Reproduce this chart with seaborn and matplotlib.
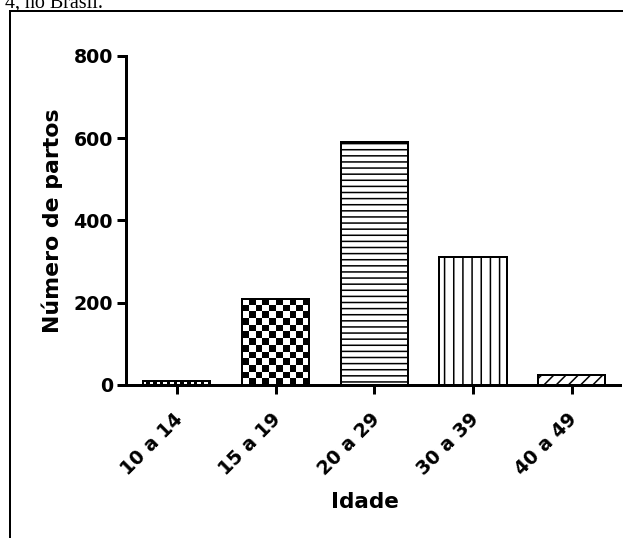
import numpy as np
import pandas as pd
import matplotlib
matplotlib.use("Agg")
import matplotlib.pyplot as plt
import matplotlib.transforms as mtransforms
import seaborn as sns
from matplotlib.patches import Rectangle

# ---- data ----
categories = ["10 a 14", "15 a 19", "20 a 29", "30 a 39", "40 a 49"]
partos = [10, 210, 590, 312, 24]
yticks = [0, 200, 400, 600, 800]
xlabel = "Idade"
ylabel = "Número de partos"
caption = "4, no Brasil."

DPI = 110
W, H = 623, 538
px = 72.0 / DPI  # points per pixel

sns.set_theme(style="ticks")
plt.rcParams["font.family"] = ["DejaVu Sans"]
plt.rcParams["font.weight"] = "bold"
plt.rcParams["hatch.linewidth"] = 1.0
plt.rcParams["hatch.color"] = "black"

fig = plt.figure(figsize=(W / DPI, H / DPI), dpi=DPI)
fig.patch.set_facecolor("white")
ax_l, ax_r, ax_t, ax_b = 126, 620, 55.7, 385
ax = fig.add_axes([ax_l / W, 1 - ax_b / H, (ax_r - ax_l) / W, (ax_b - ax_t) / H])
ax.set_facecolor("white")

df = pd.DataFrame({"Idade": categories, "partos": partos})
sns.barplot(data=df, x="Idade", y="partos", ax=ax, color="white",
            edgecolor="black", linewidth=2 * px, width=0.68, saturation=1,
            errorbar=None)

ax.set_ylim(0, 800)
ax.set_xlim(-0.516, 4.49)
ax.set_yticks(yticks)

bars = ax.patches
bars[2].set_hatch("---")
bars[3].set_hatch("||")
bars[4].set_hatch("///")


def checker(patch, size_px):
    bb = patch.get_window_extent()
    ncols = max(1, int(round(bb.width / size_px)))
    nrows = max(1, int(round(bb.height / size_px)))
    arr = (np.add.outer(np.arange(nrows), np.arange(ncols)) % 2).astype(float)
    x0, y0 = patch.get_x(), patch.get_y()
    w, h = patch.get_width(), patch.get_height()
    patch.set_facecolor("none")
    im = ax.imshow(arr, cmap="binary", vmin=0, vmax=1, aspect="auto",
                   interpolation="nearest", extent=(x0, x0 + w, y0, y0 + h),
                   zorder=patch.get_zorder() - 0.1)
    im.set_clip_path(patch)


checker(bars[1], 6.7)
checker(bars[0], 3.3)
ax.set_ylim(0, 800)
ax.set_xlim(-0.516, 4.49)

sns.despine(ax=ax)
for s in ["left", "bottom"]:
    ax.spines[s].set_linewidth(3 * px)
    ax.spines[s].set_color("black")

ax.tick_params(axis="both", which="major", width=3 * px, length=9 * px,
               color="black", labelcolor="black", labelsize=19 * px)
ax.tick_params(axis="y", pad=4 * px)
ax.tick_params(axis="x", pad=12 * px)
plt.setp(ax.get_xticklabels(), rotation=45, ha="right",
         rotation_mode="anchor", fontweight="bold")
plt.setp(ax.get_yticklabels(), fontweight="bold")
shift = mtransforms.ScaledTranslation(-4 / DPI, -4 / DPI, fig.dpi_scale_trans)
for lab in ax.get_xticklabels():
    lab.set_transform(lab.get_transform() + shift)

ax.set_xlabel(xlabel, fontsize=21.5 * px, fontweight="bold", color="black")
ax.xaxis.set_label_coords((365 - ax_l) / (ax_r - ax_l),
                          (ax_b - 508) / (ax_b - ax_t))
ax.xaxis.label.set_va("baseline")
ax.set_ylabel(ylabel, fontsize=22 * px, fontweight="bold", color="black",
              labelpad=10 * px)

# surrounding frame of the figure box
fig.add_artist(Rectangle((9.5 / W, -0.1), 1.2, 1 - 11 / H + 0.1,
                         transform=fig.transFigure, fill=False,
                         edgecolor="black", linewidth=2 * px))
fig.text(103 / W, 1 - 7.5 / H, caption, ha="right", va="baseline",
         fontsize=20 * px, family=["Liberation Serif"], fontweight="normal",
         color="black")

fig.savefig("out.png", dpi=DPI, facecolor="white")
